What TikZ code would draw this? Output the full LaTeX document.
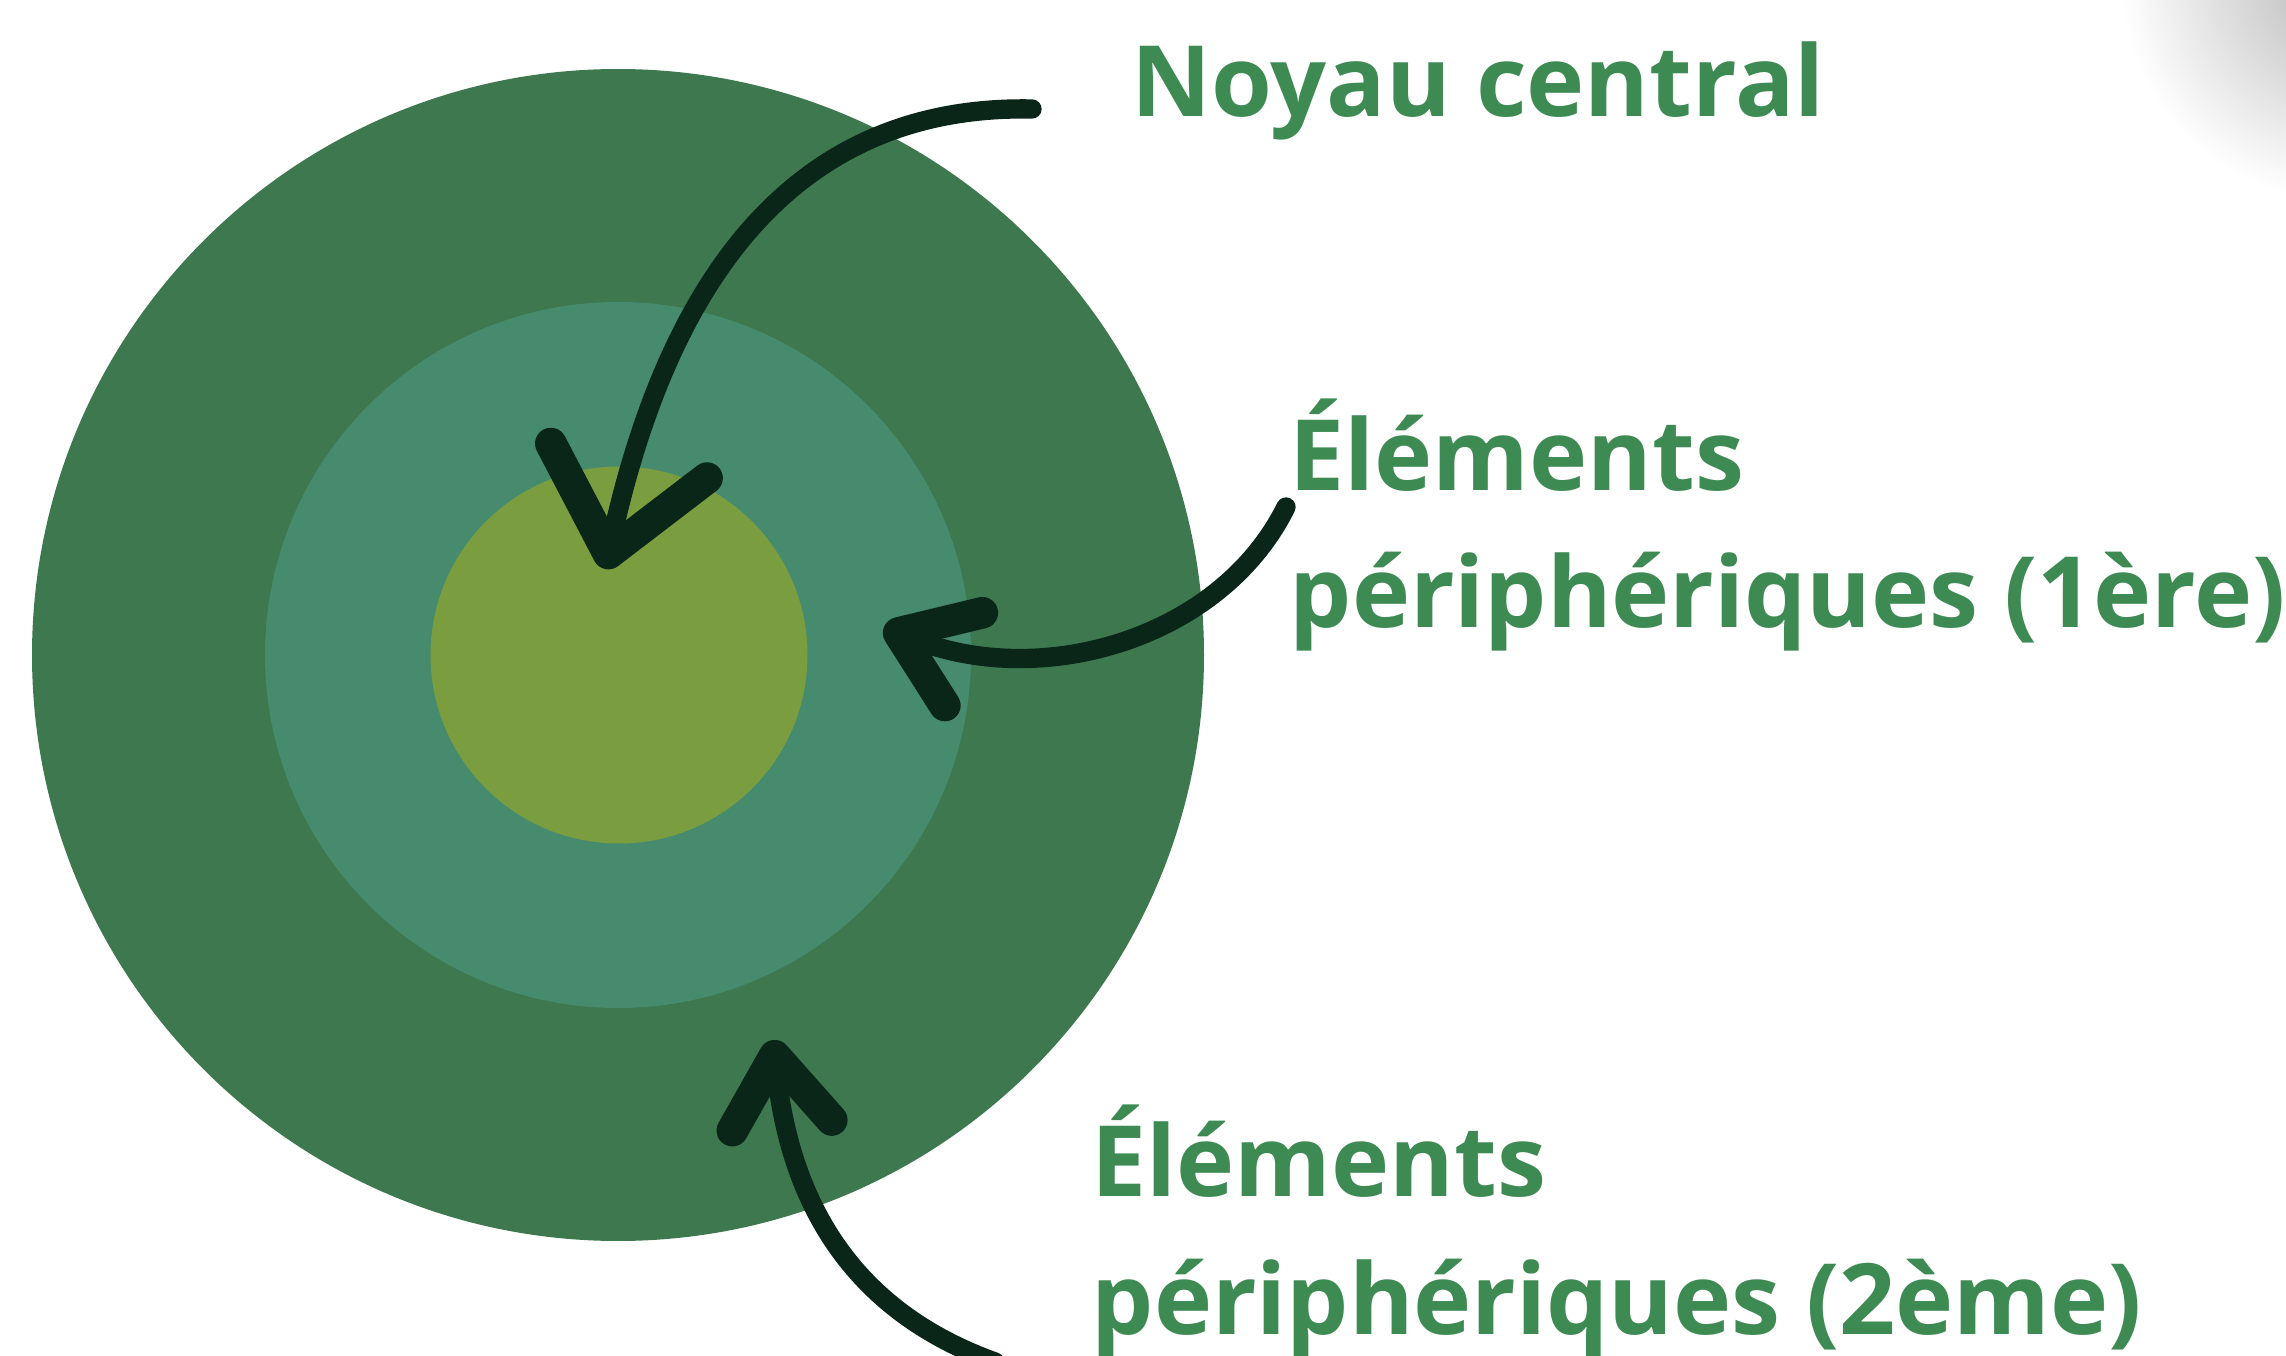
\documentclass[tikz,border=0pt]{standalone}
\usepackage{fontspec}
\setmainfont{Open Sans}
\usetikzlibrary{arrows.meta,positioning}

\definecolor{ringout}{HTML}{3E784F}
\definecolor{ringmid}{HTML}{468B6D}
\definecolor{ringcore}{HTML}{7A9E3F}
\definecolor{labelgreen}{HTML}{3D8B53}
\definecolor{arrowink}{HTML}{0A2619}

\begin{document}
\begin{tikzpicture}[x=0.1mm,y=-0.1mm,
    ring/.style={circle, inner sep=0pt, draw=none},
    label/.style={anchor=base west, inner sep=0pt, align=left, text=labelgreen,
      font=\fontsize{28}{39}\selectfont\bfseries},
    brush/.style={line width=5.5pt, draw=arrowink, line cap=round}]
  \useasboundingbox (0,0) rectangle (2286,1356);
  \fill[white] (0,0) rectangle (2286,1356);
  % shadow in the top right corner
  \begin{scope}
    \clip (0,0) rectangle (2286,1356);
    \shade[inner color=black!28, outer color=white] (2340,-20) circle (220);
  \end{scope}

  % the three rings
  \node[ring, fill=ringout, minimum size=117.2mm] (ring2) at (618,655) {};
  \node[ring, fill=ringmid, minimum size=70.6mm] (ring1) at (618,655) {};
  \node[ring, fill=ringcore, minimum size=37.7mm] (core) at (619,655) {};

  % labels (base = last line)
  \node[label] (noyau) at (1131,117) {Noyau central};
  \node[label] (peri1) at (1289,628) {Éléments\\périphériques (1ère)};
  \node[label] (peri2) at (1091,1334) {Éléments\\périphériques (2ème)};

  % arrows
  \coordinate (noyau-from) at (1032,109);
  \coordinate (noyau-to) at (605,569);
  \coordinate (peri1-from) at (1286,507);
  \coordinate (peri1-to) at (884,627);
  \coordinate (peri2-from) at (995,1362);
  \coordinate (peri2-to) at (773,1040);
  \draw[brush, -{Straight Barb[length=9.5mm,width=16mm,line width=9pt,round]}]
    (noyau-from) .. controls (830,105) and (680,230) .. (noyau-to);
  \draw[brush, -{Straight Barb[length=7mm,width=10mm,line width=9pt,round]}]
    (peri1-from) .. controls (1220,640) and (1040,690) .. (peri1-to);
  \draw[brush, -{Straight Barb[length=7mm,width=10mm,line width=9pt,round]}]
    (peri2-from) .. controls (850,1310) and (790,1200) .. (peri2-to);
\end{tikzpicture}
\end{document}
